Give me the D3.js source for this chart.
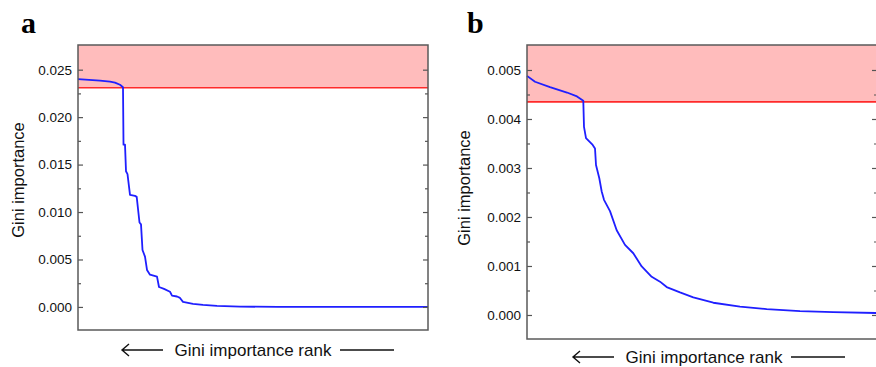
<!DOCTYPE html>
<html>
<head lang="en">
    <meta charset="utf-8">
    <title>Gini importance</title>
    <style type="text/css">
        body {
            margin: 0;
            background: #fff;
        }
        .tick text {
            font-family: "Liberation Sans", Arial, sans-serif;
            font-size: 13.5px;
            fill: #111;
        }
        .tick line {
            stroke: #555;
            stroke-width: 1.2;
        }
    </style>
</head>
<body>
<div id="chart"></div>

<script src="https://cdn.jsdelivr.net/npm/d3@7/dist/d3.min.js"></script>
<script type="text/javascript">
    // panel a: rank position vs Gini importance
    var rankA = [0, 22, 32, 37, 42, 45, 45.5, 47, 48, 49.5, 52, 57, 58.7, 61.5, 63, 64.5, 67, 69, 72, 79,
        81, 86, 92, 94, 99, 102, 105, 115, 125, 139, 162, 200, 350];
    var giniA = [0.0240, 0.02385, 0.02373, 0.02363, 0.02341, 0.02315, 0.0171, 0.0171, 0.0143, 0.0140,
        0.0118, 0.0117, 0.0116, 0.0089, 0.0087, 0.0060, 0.0053, 0.0039, 0.0034, 0.0032,
        0.0021, 0.0019, 0.0016, 0.0012, 0.0011, 0.00095, 0.00053, 0.00032, 0.00021, 0.00011, 0.00003, 0.00001, 0];
    var thresholdA = 0.0231;
    var ticksA = [0, 0.005, 0.010, 0.015, 0.020, 0.025];
    var minorA = [0.0025, 0.0075, 0.0125, 0.0175, 0.0225];

    // panel b
    var rankB = [0, 8, 23, 40, 50, 56.3, 57, 59, 65.7, 68, 69, 72.3, 74.7, 77, 83, 89.7, 98, 106.3, 114.7,
        124.7, 133, 139.7, 153, 166.3, 186.3, 213, 239.7, 273, 306.3, 350];
    var giniB = [0.00488, 0.00476, 0.00465, 0.00454, 0.00446, 0.00437, 0.00384, 0.00361, 0.00347, 0.00340,
        0.00306, 0.00279, 0.00252, 0.00235, 0.00212, 0.00173, 0.00143, 0.00126, 0.00099,
        0.00078, 0.00068, 0.00057, 0.00046, 0.00036, 0.00025, 0.00017, 0.00012, 0.00008, 0.00006, 0.00004];
    var thresholdB = 0.00435;
    var ticksB = [0, 0.001, 0.002, 0.003, 0.004, 0.005];
    var minorB = [0.0005, 0.0015, 0.0025, 0.0035, 0.0045];

    var svg = d3.select("#chart").append("svg")
        .attr("width", 876)
        .attr("height", 367);

    function panel(opt) {
        var w = opt.right - opt.left,
            h = opt.bottom - opt.top;

        var x = d3.scaleLinear().domain([0, 350]).range([0, w]);
        var y = d3.scaleLinear().domain(opt.domain).range([h, 0]);

        var g = svg.append("g")
            .attr("transform", "translate(" + opt.left + "," + opt.top + ")");

        // pink band above the threshold
        g.append("rect")
            .attr("x", 0)
            .attr("y", 0)
            .attr("width", w)
            .attr("height", y(opt.threshold))
            .attr("fill", "#ffbcbc");

        g.append("line")
            .attr("x1", 0)
            .attr("x2", w)
            .attr("y1", y(opt.threshold))
            .attr("y2", y(opt.threshold))
            .attr("stroke", "#ff2a2a")
            .attr("stroke-width", 1.6);

        var line = d3.line()
            .x(function (d) { return x(d[0]); })
            .y(function (d) { return y(d[1]); });

        g.append("path")
            .datum(d3.zip(opt.rank, opt.gini))
            .attr("d", line)
            .attr("fill", "none")
            .attr("stroke", "#1f1fff")
            .attr("stroke-width", 1.8)
            .attr("stroke-linejoin", "round");

        // ticks, all pointing inward
        g.append("g")
            .call(d3.axisLeft(y).tickValues(opt.ticks).tickFormat(d3.format(".3f"))
                .tickSize(-5).tickPadding(6))
            .call(function (s) { s.select(".domain").remove(); });
        g.append("g")
            .call(d3.axisLeft(y).tickValues(opt.minor).tickFormat("").tickSize(-3))
            .call(function (s) { s.select(".domain").remove(); });
        g.append("g")
            .attr("transform", "translate(" + w + ",0)")
            .call(d3.axisRight(y).tickValues(opt.ticks).tickFormat("").tickSize(-5))
            .call(function (s) { s.select(".domain").remove(); });
        g.append("g")
            .attr("transform", "translate(" + w + ",0)")
            .call(d3.axisRight(y).tickValues(opt.minor).tickFormat("").tickSize(-3))
            .call(function (s) { s.select(".domain").remove(); });

        // frame
        g.append("rect")
            .attr("width", w)
            .attr("height", h)
            .attr("fill", "none")
            .attr("stroke", "#5a5a5a")
            .attr("stroke-width", 1.5);

        // panel letter
        svg.append("text")
            .attr("x", opt.letterX)
            .attr("y", 33)
            .style("font-family", "'Liberation Serif', 'Times New Roman', serif")
            .style("font-weight", "bold")
            .style("font-size", "30px")
            .text(opt.letter);

        // y title
        svg.append("text")
            .attr("transform", "translate(" + opt.yTitleX + "," + opt.yTitleY + ") rotate(-90)")
            .attr("text-anchor", "middle")
            .style("font-family", "'Liberation Sans', Arial, sans-serif")
            .style("font-size", "16.5px")
            .attr("fill", "#111")
            .text("Gini importance");

        // x title with arrow on the left and bar on the right
        var xt = svg.append("g")
            .attr("transform", "translate(" + opt.xTitleX + "," + opt.xTitleY + ")");
        xt.append("text")
            .attr("x", 0)
            .attr("y", 6)
            .attr("text-anchor", "middle")
            .style("font-family", "'Liberation Sans', Arial, sans-serif")
            .style("font-size", "17px")
            .attr("fill", "#111")
            .text("Gini importance rank");
        xt.append("path")
            .attr("d", "M-90,0 H-130 M-124,-6 L-131,0 L-124,6")
            .attr("fill", "none")
            .attr("stroke", "#111")
            .attr("stroke-width", 1.4);
        xt.append("line")
            .attr("x1", 87)
            .attr("x2", 141)
            .attr("y1", 0)
            .attr("y2", 0)
            .attr("stroke", "#111")
            .attr("stroke-width", 1.4);
    }

    panel({
        letter: "a", letterX: 21,
        left: 78, right: 428, top: 45, bottom: 330,
        domain: [-0.00243, 0.0276],
        rank: rankA, gini: giniA, threshold: thresholdA,
        ticks: ticksA, minor: minorA,
        yTitleX: 24, yTitleY: 180,
        xTitleX: 253, xTitleY: 350
    });

    panel({
        letter: "b", letterX: 467,
        left: 527, right: 877, top: 45, bottom: 339,
        domain: [-0.00049, 0.00551],
        rank: rankB, gini: giniB, threshold: thresholdB,
        ticks: ticksB, minor: minorB,
        yTitleX: 470, yTitleY: 188,
        xTitleX: 704, xTitleY: 357
    });
</script>
</body>
</html>
